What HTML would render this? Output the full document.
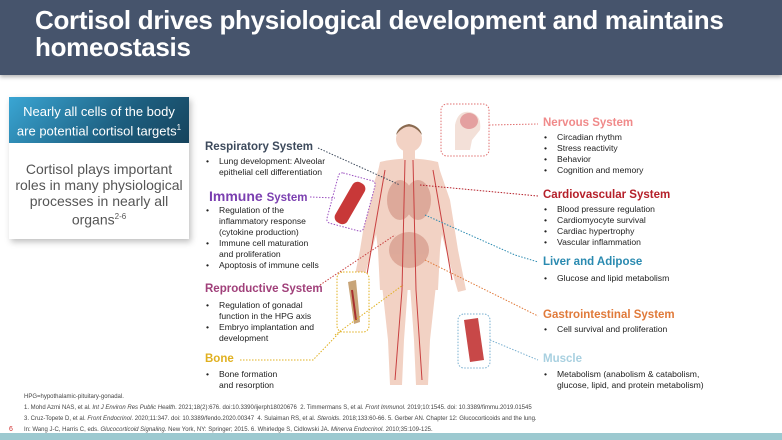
<!DOCTYPE html>
<html><head><style>
*{margin:0;padding:0;box-sizing:border-box}
body{width:782px;height:440px;position:relative;overflow:hidden;background:#fff;font-family:"Liberation Sans",Arial,sans-serif;color:#222}
.a{position:absolute}
.hd{left:0;top:0;width:782px;height:75px;background:#46546c;box-shadow:0 2px 4px rgba(0,0,0,.3)}
.tt{left:35px;top:7px;color:#fff;font-weight:bold;font-size:26px;line-height:27px;letter-spacing:-.3px}
.h{font-weight:bold;font-size:11.5px;white-space:nowrap}
ul{list-style:none;font-size:8.6px;line-height:11px;color:#222}
li{padding-left:14px;position:relative}
li:before{content:"•";position:absolute;left:1px}
.fn{left:24px;font-size:6px;color:#444;white-space:nowrap}
</style></head><body>
<div class="a hd"></div>
<div class="a tt">Cortisol drives physiological development and maintains<br>homeostasis</div>

<div class="a" style="left:9px;top:97px;width:180px;height:142px;background:#fff;box-shadow:2px 3px 6px rgba(0,0,0,.25)"></div>
<div class="a" style="left:9px;top:97px;width:180px;height:46px;background:linear-gradient(135deg,#3aa6d4,#1d5f80 60%,#16435c);color:#fff;font-size:13px;line-height:16px;text-align:center;padding-top:7px">Nearly all cells of the body<br>are potential cortisol targets<sup style="font-size:8px">1</sup></div>
<div class="a" style="left:9px;top:161px;width:180px;color:#555;font-size:14px;line-height:16px;text-align:center">Cortisol plays important<br>roles in many physiological<br>processes in nearly all<br>organs<sup style="font-size:8px">2-6</sup></div>

<svg class="a" style="left:0;top:0" width="782" height="440">
 <g fill="#f2d2c4">
  <circle cx="409" cy="139" r="13"/>
  <rect x="403" y="148" width="12" height="12"/>
  <path d="M380 162 Q409 155 438 162 L446 200 L440 250 L438 290 L380 290 L378 250 L372 200 Z"/>
  <path d="M380 165 L368 200 L360 250 L352 290 L360 292 L372 250 L384 205Z"/>
  <path d="M438 165 L450 200 L458 250 L466 290 L458 292 L446 250 L434 205Z"/>
  <path d="M382 285 L408 285 L404 340 L402 385 L390 385 L388 340Z"/>
  <path d="M410 285 L436 285 L430 340 L428 385 L416 385 L414 340Z"/>
 </g>
 <path d="M396 135 Q409 118 422 135 Q420 126 409 124 Q398 126 396 135Z" fill="#8a6a50"/>
 <g fill="#d9a090" opacity=".8"><ellipse cx="400" cy="200" rx="13" ry="20"/><ellipse cx="418" cy="200" rx="13" ry="20"/><ellipse cx="409" cy="250" rx="20" ry="18"/></g>
 <g stroke="#c84040" stroke-width="1" fill="none"><path d="M405 160 L402 290 L395 380"/><path d="M413 160 L416 290 L422 380"/><path d="M385 170 L366 280"/><path d="M433 170 L452 280"/></g>
 <rect x="441" y="104" width="48" height="52" rx="6" fill="#fff" stroke="#e07070" stroke-dasharray="1.5 1.5"/>
 <path d="M455 150 L455 125 Q458 110 470 112 Q482 115 480 130 L472 140 L470 150Z" fill="#f3e0d8"/><ellipse cx="469" cy="121" rx="9" ry="8" fill="#e4a0a0"/>
 <rect x="332" y="176" width="38" height="52" rx="4" fill="#fff" stroke="#9b50c0" stroke-dasharray="1.5 1.5" transform="rotate(15 351 202)"/>
 <rect x="343" y="180" width="14" height="46" rx="6" fill="#c83838" transform="rotate(30 350 203)"/>
 <rect x="337" y="272" width="32" height="60" rx="6" fill="#fff" stroke="#e0b020" stroke-dasharray="1.5 1.5"/>
 <path d="M348 282 L356 280 L360 322 L354 324Z" fill="#c8a478"/><path d="M352 290 L356 320" stroke="#a83030" stroke-width="2"/>
 <rect x="458" y="314" width="32" height="54" rx="6" fill="#fff" stroke="#7ab0d0" stroke-dasharray="1.5 1.5"/>
 <path d="M464 320 L478 318 L484 360 L470 362Z" fill="#c84848"/>
 <g fill="none" stroke-dasharray="1.5 1.5" stroke-width="1">
  <path d="M318 148 L400 185" stroke="#3d4a5c"/>
  <path d="M310 197 L335 198" stroke="#9b50c0"/>
  <path d="M320 285 L395 235" stroke="#c84040"/>
  <path d="M240 360 L313 360 L340 332" stroke="#e0b020"/>
  <path d="M335 335 L403 285" stroke="#e0b020"/>
  <path d="M489 125 L538 124" stroke="#e07070"/>
  <path d="M420 185 L538 196" stroke="#b5202a"/>
  <path d="M425 215 L515 255 L538 262" stroke="#2a8ab0"/>
  <path d="M425 260 L538 316" stroke="#e07a3a"/>
  <path d="M490 340 L538 360" stroke="#7ab0d0"/>
 </g>
 <rect x="0" y="433" width="782" height="7" fill="#9cc9d0"/>
</svg>

<div class="a h" style="left:205px;top:141px;color:#3d4a5c">Respiratory System</div>
<ul class="a" style="left:205px;top:156px"><li>Lung development: Alveolar<br>epithelial cell differentiation</li></ul>
<div class="a h" style="left:209px;top:188px;color:#7b3fb0;font-size:14px">Immune <span style="font-size:11.5px">System</span></div>
<ul class="a" style="left:205px;top:205px"><li>Regulation of the<br>inflammatory response<br>(cytokine production)</li><li>Immune cell maturation<br>and proliferation</li><li>Apoptosis of immune cells</li></ul>
<div class="a h" style="left:205px;top:283px;color:#a0407a">Reproductive System</div>
<ul class="a" style="left:205px;top:300px"><li>Regulation of gonadal<br>function in the HPG axis</li><li>Embryo implantation and<br>development</li></ul>
<div class="a h" style="left:205px;top:353px;color:#e0b020">Bone</div>
<ul class="a" style="left:205px;top:369px"><li>Bone formation<br>and resorption</li></ul>

<div class="a h" style="left:543px;top:117px;color:#f08a8a">Nervous System</div>
<ul class="a" style="left:543px;top:132px"><li>Circadian rhythm</li><li>Stress reactivity</li><li>Behavior</li><li>Cognition and memory</li></ul>
<div class="a h" style="left:543px;top:189px;color:#b5202a">Cardiovascular System</div>
<ul class="a" style="left:543px;top:204px"><li>Blood pressure regulation</li><li>Cardiomyocyte survival</li><li>Cardiac hypertrophy</li><li>Vascular inflammation</li></ul>
<div class="a h" style="left:543px;top:256px;color:#2a8ab0">Liver and Adipose</div>
<ul class="a" style="left:543px;top:273px"><li>Glucose and lipid metabolism</li></ul>
<div class="a h" style="left:543px;top:309px;color:#e07a3a">Gastrointestinal System</div>
<ul class="a" style="left:543px;top:324px"><li>Cell survival and proliferation</li></ul>
<div class="a h" style="left:543px;top:353px;color:#a8d0e0">Muscle</div>
<ul class="a" style="left:543px;top:369px"><li>Metabolism (anabolism &amp; catabolism,<br>glucose, lipid, and protein metabolism)</li></ul>

<div class="a fn" style="top:394px">HPG=hypothalamic-pituitary-gonadal.</div>
<div class="a fn" style="top:405px">1. Mohd Azmi NAS, et al. <i>Int J Environ Res Public Health</i>. 2021;18(2):676. doi:10.3390/ijerph18020676&nbsp; 2. Timmermans S, et al. <i>Front Immunol</i>. 2019;10:1545. doi: 10.3389/fimmu.2019.01545</div>
<div class="a fn" style="top:416px">3. Cruz-Topete D, et al. <i>Front Endocrinol</i>. 2020;11:347. doi: 10.3389/fendo.2020.00347&nbsp; 4. Sulaiman RS, et al. <i>Steroids</i>. 2018;133:60-66. 5. Gerber AN. Chapter 12: Glucocorticoids and the lung.</div>
<div class="a fn" style="top:427px">In: Wang J-C, Harris C, eds. <i>Glucocorticoid Signaling</i>. New York, NY: Springer; 2015. 6. Whirledge S, Cidlowski JA. <i>Minerva Endocrinol</i>. 2010;35:109-125.</div>
<div class="a" style="left:9px;top:426px;font-size:7px;color:#d03030">6</div>
</body></html>
